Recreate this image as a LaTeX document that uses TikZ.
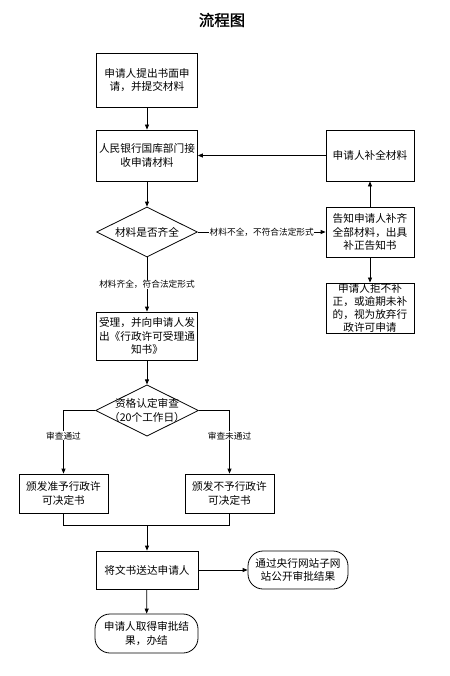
\documentclass[tikz,border=0pt]{standalone}
\usepackage{fontspec}
\setmainfont{Noto Sans CJK SC}
\newfontfamily\titlefont[FakeBold=1.5]{Noto Sans CJK SC}
\usetikzlibrary{shapes.geometric,arrows.meta}
\tikzset{
  box/.style={draw, line width=0.8bp, rectangle, align=center, inner sep=1bp,
    font=\fontsize{10.7}{13.8}\selectfont},
  term/.style={box, rounded corners=15bp},
  dia/.style={draw, line width=0.8bp, diamond, align=center, inner sep=-12bp,
    font=\fontsize{10.7}{13.5}\selectfont},
  lbl/.style={fill=white, inner sep=0.5bp, font=\fontsize{8.7}{9.5}\selectfont},
  arr/.style={line width=0.8bp, -{Triangle[length=5bp,width=4bp]}},
  ln/.style={line width=0.8bp}
}
\begin{document}
\begin{tikzpicture}[x=1bp,y=-1bp]
\useasboundingbox (0,0) rectangle (450,676);
\node (title) at (222,20) {\titlefont\fontsize{15.5}{17}\selectfont 流程图};
\node[box, minimum width=101bp, minimum height=54bp] (b1) at (147,80) {申请人提出书面申\\请，并提交材料};
\node[box, minimum width=101bp, minimum height=51bp] (b2) at (147,155.5) {人民银行国库部门接\\收申请材料};
\node[box, minimum width=88bp, minimum height=51bp] (br) at (370,155.5) {申请人补全材料};
\node[dia, minimum width=101bp, minimum height=50bp] (d1) at (147,232) {材料是否齐全};
\node[box, minimum width=88bp, minimum height=50bp] (bn) at (370,232) {告知申请人补齐\\全部材料，出具\\补正告知书};
\node[box, minimum width=88bp, minimum height=50bp, font=\fontsize{10.7}{12.8}\selectfont] (bq) at (370,308) {申请人拒不补\\正，或逾期未补\\的，视为放弃行\\政许可申请};
\node[box, minimum width=101bp, minimum height=48bp] (b3) at (147,336) {受理，并向申请人发\\出《行政许可受理通\\知书》};
\node[dia, minimum width=103bp, minimum height=51bp] (d2) at (147,410.5) {资格认定审查\\（20个工作日）};
\node[box, minimum width=89bp, minimum height=39bp] (b4) at (63.5,493.5) {颁发准予行政许\\可决定书};
\node[box, minimum width=89bp, minimum height=39bp] (b5) at (229.5,493.5) {颁发不予行政许\\可决定书};
\coordinate (m) at (147,525);
\node[box, minimum width=102bp, minimum height=38bp] (b6) at (147,570) {将文书送达申请人};
\node[term, minimum width=100bp, minimum height=38bp] (t1) at (298,570) {通过央行网站子网\\站公开审批结果};
\node[term, minimum width=103bp, minimum height=39bp] (t2) at (146.5,633.5) {申请人取得审批结\\果，办结};

\draw[arr] (b1) -- (b2);
\draw[arr] (br) -- (b2);
\draw[arr] (b2) -- (d1);
\draw[arr] (d1.east) -- node[lbl]{材料不全，不符合法定形式} (bn.west);
\draw[arr] (bn) -- (br);
\draw[arr] (bn) -- (bq);
\draw[arr] (d1.south) -- node[lbl]{材料齐全，符合法定形式} (b3.north);
\draw[arr] (b3) -- (d2);
\draw[arr] (d2.west) -| node[lbl, pos=0.7]{审查通过} (b4.north);
\draw[arr] (d2.east) -| node[lbl, pos=0.7]{审查未通过} (b5.north);
\draw[ln] (b4.south) |- (m);
\draw[ln] (b5.south) |- (m);
\draw[arr] (m) -- (b6.north);
\draw[arr] (b6) -- (t1);
\draw[arr] (b6) -- (t2);
\end{tikzpicture}
\end{document}
